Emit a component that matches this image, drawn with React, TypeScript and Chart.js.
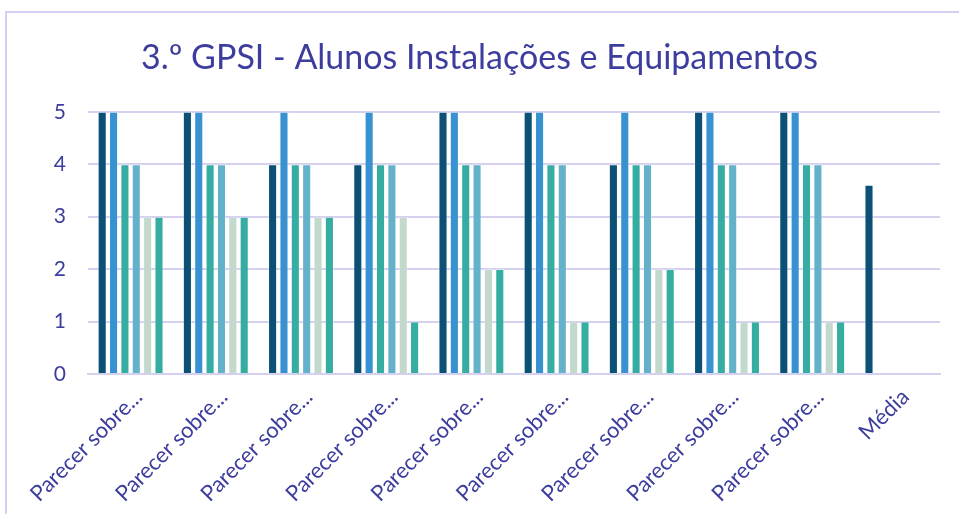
import React, { useEffect, useRef } from "react";
import { Chart, registerables } from "chart.js";

Chart.register(...registerables);

const categories = [
  "Parecer sobre...", "Parecer sobre...", "Parecer sobre...", "Parecer sobre...",
  "Parecer sobre...", "Parecer sobre...", "Parecer sobre...", "Parecer sobre...",
  "Parecer sobre...", "Média",
];
const series1 = [5, 5, 4, 4, 5, 5, 4, 5, 5, 3.61];
const series2 = [5, 5, 5, 5, 5, 5, 5, 5, 5, null];
const series3 = [4, 4, 4, 4, 4, 4, 4, 4, 4, null];
const series4 = [4, 4, 4, 4, 4, 4, 4, 4, 4, null];
const series5 = [3, 3, 3, 3, 2, 1, 2, 1, 1, null];
const series6 = [3, 3, 3, 1, 2, 1, 2, 1, 1, null];
const seriesNames = ["S1", "S2", "S3", "S4", "S5", "S6"];
const colors = ["#0b5175", "#3892d2", "#36ada2", "#64b1ca", "#c4d9cd", "#35ada1"];
const yTicks = [0, 1, 2, 3, 4, 5];

const TEXT = "#3d3d9e";
const GRID = "#d4d0ee";

const framePlugin = {
  id: "frame",
  beforeDraw(chart: any) {
    const ctx = chart.ctx;
    ctx.save();
    ctx.fillStyle = "#ffffff";
    ctx.fillRect(0, 0, chart.width, chart.height);
    ctx.strokeStyle = "#d3d0f2";
    ctx.lineWidth = 2;
    ctx.beginPath();
    ctx.moveTo(6, chart.height);
    ctx.lineTo(6, 12);
    ctx.lineTo(chart.width, 12);
    ctx.stroke();
    ctx.restore();
  },
};

export default function App() {
  const ref = useRef<HTMLCanvasElement>(null);
  useEffect(() => {
    document.body.style.margin = "0";
    const all = [series1, series2, series3, series4, series5, series6];
    const chart = new Chart(ref.current!, {
      type: "bar",
      data: {
        labels: categories,
        datasets: all.map((d, i) => ({
          label: seriesNames[i],
          data: d,
          backgroundColor: colors[i],
          borderColor: "rgba(255,255,255,0.35)",
          borderWidth: 1,
          categoryPercentage: 0.8,
          barPercentage: 0.8,
        })),
      },
      options: {
        animation: false,
        responsive: false,
        maintainAspectRatio: false,
        layout: { padding: { left: 0, right: 0, top: 0, bottom: 0 } },
        plugins: {
          legend: { display: false },
          tooltip: { enabled: false },
          title: {
            display: true,
            text: "3.º GPSI - Alunos Instalações e Equipamentos",
            color: TEXT,
            font: { family: "Lato", size: 34, weight: "normal" },
            padding: { top: 38, bottom: 33 },
          },
        },
        scales: {
          x: {
            grid: { display: false },
            border: { color: GRID, width: 2 },
            ticks: {
              color: TEXT,
              font: { family: "Lato", size: 22 },
              minRotation: 45,
              maxRotation: 45,
              autoSkip: false,
              padding: 2,
              labelOffset: 8,
            },
            afterFit: (s: any) => { s.height = 140; },
          },
          y: {
            min: 0,
            max: 5,
            afterBuildTicks: (s: any) => { s.ticks = yTicks.map((v) => ({ value: v })); },
            grid: { color: GRID, lineWidth: 2, drawTicks: false },
            border: { display: false },
            ticks: {
              color: TEXT,
              font: { family: "Lato", size: 21 },
              padding: 22,
            },
            afterFit: (s: any) => { s.width = 88; },
          },
          yRight: {
            type: "linear",
            position: "right",
            display: true,
            grid: { display: false, drawTicks: false },
            border: { display: false },
            ticks: { display: false },
            afterFit: (s: any) => { s.width = 19; },
          },
        },
      },
      plugins: [framePlugin],
    });
    return () => chart.destroy();
  }, []);
  return <canvas ref={ref} width={959} height={514} style={{ display: "block" }} />;
}
